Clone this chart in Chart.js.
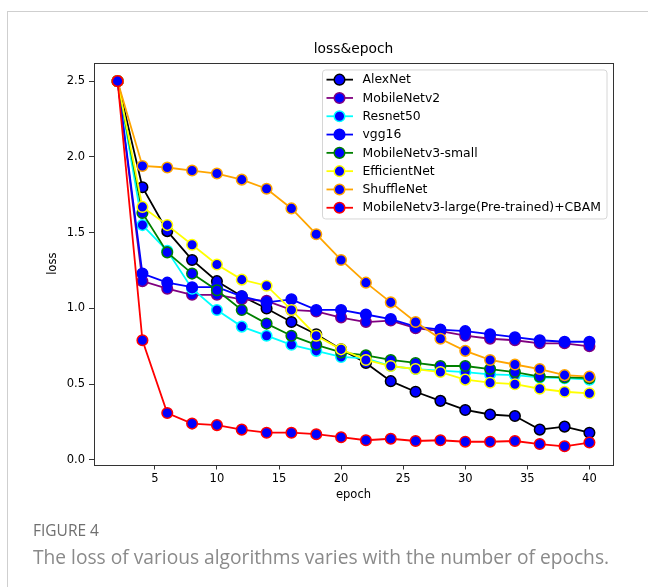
<!DOCTYPE html>
<html>
<head>
<meta charset="utf-8">
<script src="https://cdn.jsdelivr.net/npm/chart.js@4"></script>
<style>
  html, body { margin: 0; padding: 0; background: #fff; }
  #wrap { position: relative; width: 648px; height: 587px; overflow: hidden; }
  #card { position: absolute; left: 7px; top: 11px; width: 800px; height: 800px;
          border-left: 1px solid #cfcfcf; border-top: 1px solid #cfcfcf; }
  canvas { position: absolute; left: 0; top: 0; }
  #figno { position: absolute; left: 33px; top: 520px; font-family: "Open Sans", sans-serif;
           font-size: 15.5px; line-height: 21px; color: #6f6f6f; }
  #cap { position: absolute; left: 33px; top: 544px; font-family: "Open Sans", sans-serif;
         font-size: 19.2px; line-height: 26px; color: #8a8a8a; white-space: nowrap; }
</style>
</head>
<body>
<div id="wrap">
  <div id="card"></div>
  <canvas id="c" width="648" height="587"></canvas>
  <div id="figno">FIGURE 4</div>
  <div id="cap">The loss of various algorithms varies with the number of epochs.</div>
</div>
<script>
// Training epochs and the loss recorded for each network
const epochs = [2, 4, 6, 8, 10, 12, 14, 16, 18, 20, 22, 24, 26, 28, 30, 32, 34, 36, 38, 40];

const alexNet          = [2.5, 1.80, 1.51, 1.32, 1.18, 1.08, 1.00, 0.91, 0.83, 0.73, 0.64, 0.52, 0.45, 0.39, 0.33, 0.30, 0.29, 0.20, 0.22, 0.18];
const mobileNetV2      = [2.5, 1.18, 1.13, 1.09, 1.09, 1.06, 1.05, 0.99, 0.98, 0.94, 0.91, 0.92, 0.87, 0.85, 0.82, 0.80, 0.79, 0.77, 0.77, 0.75];
const resnet50         = [2.5, 1.55, 1.38, 1.13, 0.99, 0.88, 0.82, 0.76, 0.72, 0.68, 0.67, 0.62, 0.60, 0.59, 0.58, 0.565, 0.56, 0.545, 0.54, 0.53];
const vgg16            = [2.5, 1.23, 1.17, 1.14, 1.14, 1.08, 1.04, 1.06, 0.99, 0.99, 0.96, 0.93, 0.88, 0.86, 0.85, 0.83, 0.81, 0.79, 0.78, 0.78];
const mobileNetV3Small = [2.5, 1.63, 1.37, 1.23, 1.12, 0.99, 0.90, 0.82, 0.76, 0.71, 0.69, 0.66, 0.64, 0.62, 0.62, 0.60, 0.58, 0.55, 0.545, 0.54];
const efficientNet     = [2.5, 1.67, 1.55, 1.42, 1.29, 1.19, 1.15, 0.99, 0.82, 0.73, 0.66, 0.62, 0.60, 0.58, 0.53, 0.51, 0.50, 0.47, 0.45, 0.44];
const shuffleNet       = [2.5, 1.94, 1.93, 1.91, 1.89, 1.85, 1.79, 1.66, 1.49, 1.32, 1.17, 1.04, 0.91, 0.80, 0.72, 0.66, 0.63, 0.60, 0.56, 0.55];
const mobileNetV3Cbam  = [2.5, 0.79, 0.31, 0.24, 0.23, 0.20, 0.18, 0.18, 0.17, 0.15, 0.13, 0.14, 0.125, 0.13, 0.12, 0.12, 0.125, 0.105, 0.09, 0.115];

const seriesNames = ['AlexNet', 'MobileNetv2', 'Resnet50', 'vgg16', 'MobileNetv3-small',
                     'EfficientNet', 'ShuffleNet', 'MobileNetv3-large(Pre-trained)+CBAM'];
const seriesValues = [alexNet, mobileNetV2, resnet50, vgg16, mobileNetV3Small,
                      efficientNet, shuffleNet, mobileNetV3Cbam];
const lineColors = ['#000000', '#800080', '#00ffff', '#0000ff', '#008000', '#ffff00', '#ffa500', '#ff0000'];

const xTicks = [5, 10, 15, 20, 25, 30, 35, 40];
const yTicks = [0, 0.5, 1.0, 1.5, 2.0, 2.5];

const FONT = 'DejaVu Sans';
const MARKER = '#0000ff';

const datasets = seriesNames.map((name, i) => ({
  label: name,
  data: epochs.map((e, k) => ({ x: e, y: seriesValues[i][k] })),
  borderColor: lineColors[i],
  backgroundColor: MARKER,
  borderWidth: 1.8,
  pointRadius: 5.3,
  pointBorderWidth: 1.5,
  pointBackgroundColor: MARKER,
  pointBorderColor: lineColors[i],
  tension: 0,
  // later series drawn on top
  order: seriesNames.length - 1 - i
}));

// Box around the plotting area
const framePlugin = {
  id: 'frame',
  afterDatasetsDraw(chart) {
    const { ctx, chartArea: a } = chart;
    ctx.save();
    ctx.strokeStyle = '#333';
    ctx.lineWidth = 1;
    ctx.strokeRect(Math.round(a.left) + 0.5, Math.round(a.top) + 0.5,
                   Math.round(a.right - a.left), Math.round(a.bottom - a.top));
    ctx.restore();
  }
};

// Legend drawn inside the upper right of the plot
const insideLegend = {
  id: 'insideLegend',
  afterDraw(chart) {
    const { ctx, chartArea: a } = chart;
    const x0 = a.right - 291, y0 = a.top + 6.5, w = 284.5, h = 149;
    const rowH = 18.3, firstRow = y0 + 10.2;
    ctx.save();
    ctx.beginPath();
    ctx.roundRect(x0 + 0.5, y0 + 0.5, w, h, 3);
    ctx.fillStyle = 'rgba(255,255,255,0.8)';
    ctx.fill();
    ctx.strokeStyle = '#d6d6d6';
    ctx.lineWidth = 1;
    ctx.stroke();
    ctx.font = '12.4px "' + FONT + '"';
    ctx.textBaseline = 'middle';
    ctx.textAlign = 'left';
    chart.data.datasets.forEach((ds, i) => {
      const y = firstRow + i * rowH;
      ctx.beginPath();
      ctx.moveTo(x0 + 4.5, y);
      ctx.lineTo(x0 + 31, y);
      ctx.strokeStyle = ds.borderColor;
      ctx.lineWidth = 1.8;
      ctx.stroke();
      ctx.beginPath();
      ctx.arc(x0 + 17.5, y, 5.3, 0, Math.PI * 2);
      ctx.fillStyle = ds.pointBackgroundColor;
      ctx.fill();
      ctx.lineWidth = 1.5;
      ctx.strokeStyle = ds.pointBorderColor;
      ctx.stroke();
      ctx.fillStyle = '#000';
      ctx.fillText(ds.label, x0 + 40.5, y + 0.5);
    });
    ctx.restore();
  }
};

new Chart(document.getElementById('c'), {
  type: 'line',
  data: { datasets },
  options: {
    responsive: false,
    animation: false,
    layout: { padding: { left: 40, right: 35, top: 0, bottom: 82.5 } },
    plugins: {
      legend: { display: false },
      tooltip: { enabled: false },
      title: {
        display: true,
        fullSize: false,
        text: 'loss&epoch',
        color: '#000',
        font: { family: FONT, size: 13.8, weight: 'normal' },
        padding: { top: 40.7, bottom: 5.7 }
      }
    },
    scales: {
      x: {
        type: 'linear',
        min: 0.1,
        max: 41.9,
        afterBuildTicks: s => { s.ticks = xTicks.map(v => ({ value: v })); },
        afterFit: s => { s.height = 40; },
        border: { display: false },
        grid: { drawOnChartArea: false, drawTicks: true, tickLength: 5, color: '#333' },
        ticks: { autoSkip: false, maxRotation: 0, padding: 3, color: '#000',
                 font: { family: FONT, size: 11.5 }, callback: v => String(v) },
        title: { display: true, text: 'epoch', color: '#000',
                 font: { family: FONT, size: 11.5 }, padding: { top: 0, bottom: 2.6 } }
      },
      y: {
        type: 'linear',
        min: -0.03,
        max: 2.62,
        afterBuildTicks: s => { s.ticks = yTicks.map(v => ({ value: v })); },
        afterFit: s => { s.width = 54; },
        border: { display: false },
        grid: { drawOnChartArea: false, drawTicks: true, tickLength: 5, color: '#333' },
        ticks: { autoSkip: false, padding: 4, color: '#000',
                 font: { family: FONT, size: 11.5 }, callback: v => Number(v).toFixed(1) },
        title: { display: true, text: 'loss', color: '#000',
                 font: { family: FONT, size: 11.5 }, padding: { top: 6.5, bottom: 0 } }
      }
    }
  },
  plugins: [framePlugin, insideLegend]
});
</script>
</body>
</html>
